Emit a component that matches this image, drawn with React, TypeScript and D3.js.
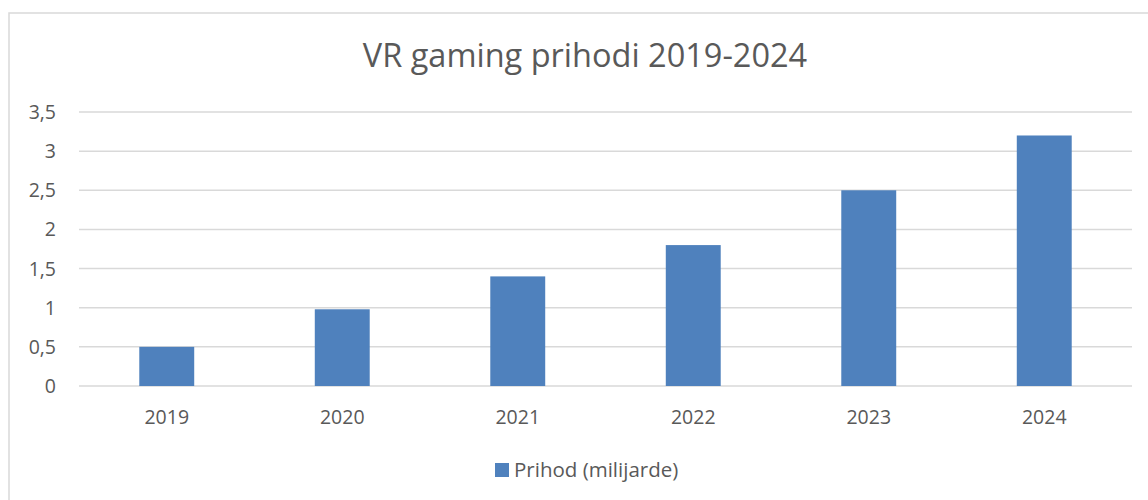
import React from "react";
import * as d3 from "d3";

const categories = ["2019", "2020", "2021", "2022", "2023", "2024"];
const values = [0.5, 0.98, 1.4, 1.8, 2.5, 3.2];
const yTicks = [0, 0.5, 1, 1.5, 2, 2.5, 3, 3.5];
const title = "VR gaming prihodi 2019-2024";
const seriesName = "Prihod (milijarde)";

const W = 1148;
const H = 500;
const FONT = "'Open Sans', 'Noto Sans', sans-serif";
const TEXT = "#595959";
const BAR = "#4f81bd";

export default function App() {
  const left = 79, right = 1132, top = 112, bottom = 386;
  const x = d3.scaleBand<string>().domain(categories).range([left, right]).paddingInner(0.687).paddingOuter(0.3435);
  const y = d3.scaleLinear().domain([0, 3.5]).range([bottom, top]);
  const fmt = (v: number) => String(v).replace(".", ",");
  return (
    <svg width={W} height={H} style={{ position: "absolute", left: 0, top: 0, background: "#fff" }}>
      <rect x={9} y={13} width={W + 10} height={H} fill="#fff" stroke="#d9d9d9" strokeWidth={1.5} />
      <text x={585} y={67} textAnchor="middle" fontFamily={FONT} fontSize={32.5} fill={TEXT}>{title}</text>
      {yTicks.map((t) => (
        <g key={t}>
          <line x1={left} x2={right} y1={y(t)} y2={y(t)} stroke="#d9d9d9" strokeWidth={1.5} />
          <text x={56} y={y(t)} dy="0.36em" textAnchor="end" fontFamily={FONT} fontSize={19.5} fill={TEXT}>{fmt(t)}</text>
        </g>
      ))}
      {categories.map((c, i) => (
        <g key={c}>
          <rect x={x(c)} y={y(values[i])} width={x.bandwidth()} height={y(0) - y(values[i])} fill={BAR} />
          <text x={(x(c) as number) + x.bandwidth() / 2} y={424} textAnchor="middle" fontFamily={FONT} fontSize={19.5} fill={TEXT}>{c}</text>
        </g>
      ))}
      <rect x={495} y={463} width={14} height={14} fill={BAR} />
      <text x={514} y={477} fontFamily={FONT} fontSize={20.5} fill={TEXT}>{seriesName}</text>
    </svg>
  );
}
